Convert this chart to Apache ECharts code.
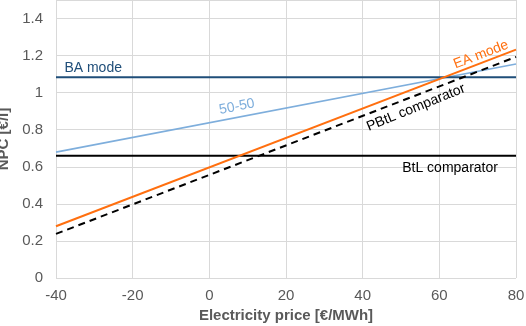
<!DOCTYPE html>
<html><head><meta charset="utf-8">
<script src="https://cdn.jsdelivr.net/npm/echarts@6/dist/echarts.min.js"></script>
<style>html,body{margin:0;padding:0;background:#fff}#c{width:526px;height:326px}</style>
</head><body><div id="c"></div>
<script>
// x range endpoints (electricity price, €/MWh)
const xPoints = [-40, 80];
// NPC values [€/l] at the endpoints
const baMode = [1.083, 1.083];
const fiftyFifty = [0.679, 1.155];
const eaMode = [0.279, 1.232];
const pbtl = [0.238, 1.193];
const btl = [0.659, 0.659];
const xTicks = [-40, -20, 0, 20, 40, 60, 80];
const yTicks = [0, 0.2, 0.4, 0.6, 0.8, 1, 1.2, 1.4];

const font = 'Liberation Sans, Arial, sans-serif';
function pairs(vals){ return xPoints.map((x,i)=>[x, vals[i]]); }
function lbl(text, coord, rot, color){
  return {markPoint:{silent:true, animation:false, data:[{coord:coord, symbol:'circle', symbolSize:0,
    label:{show:true, position:'inside', formatter:text, rotate:rot, color:color, fontSize:14, fontFamily:font}}]}};
}
function line(name, vals, color, width, type, label){
  return Object.assign({type:'line', name:name, data:pairs(vals), symbol:'none', animation:false,
    lineStyle:{color:color, width:width, type:type}}, label);
}
const chart = echarts.init(document.getElementById('c'));
chart.setOption({
  backgroundColor:'#fff',
  textStyle:{fontFamily:font},
  grid:{left:56, right:10, top:0, bottom:48, containLabel:false, outerBoundsMode:'none'},
  xAxis:{type:'value', min:xTicks[0], max:xTicks[xTicks.length-1], interval:20,
    name:'Electricity price [€/MWh]', nameLocation:'middle', nameGap:30,
    nameTextStyle:{fontWeight:'bold', fontSize:15, color:'#595959', fontFamily:font},
    axisLine:{show:false}, axisTick:{show:false},
    axisLabel:{color:'#595959', fontSize:15, margin:10, fontFamily:font},
    splitLine:{show:true, lineStyle:{color:'#d9d9d9', width:1}}},
  yAxis:{type:'value', min:0, max:1.5, interval:0.2,
    name:'NPC [€/l]', nameLocation:'middle', nameGap:40,
    nameTextStyle:{fontWeight:'bold', fontSize:15, color:'#595959', fontFamily:font},
    axisLine:{show:false}, axisTick:{show:false},
    axisLabel:{color:'#595959', fontSize:15, margin:13, fontFamily:font,
      formatter:v=> yTicks.some(t=>Math.abs(t-v)<1e-6) ? String(+v.toFixed(1)) : ''},
    splitLine:{show:true, lineStyle:{color:'#d9d9d9', width:1}}},
  series:[
    line('BtL comparator', btl, '#000000', 2, 'solid', lbl('BtL comparator',[62.8,0.595],0,'#000')),
    line('50-50', fiftyFifty, '#7eaedc', 1.6, 'solid', lbl('50-50',[7.2,0.924],11,'#7eaedc')),
    line('BA mode', baMode, '#1f4e79', 2, 'solid', lbl('BA mode',[-30.3,1.135],0,'#1f4e79')),
    line('PBtL comparator', pbtl, '#000000', 2, [7,5], lbl('PBtL comparator',[53.9,0.919],22,'#000')),
    line('EA mode', eaMode, '#ff6f0f', 2, 'solid', lbl('EA mode',[70.9,1.205],21,'#ff6f0f'))
  ]
});
</script></body></html>
